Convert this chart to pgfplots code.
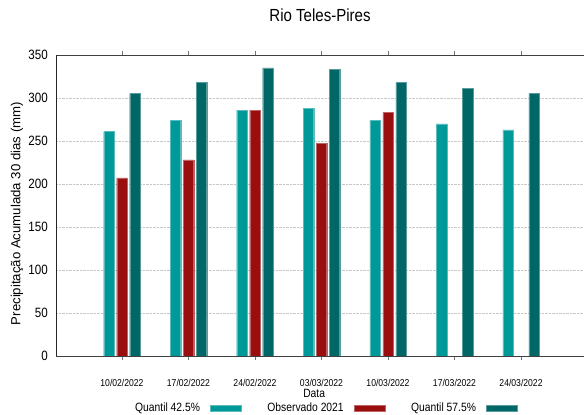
\documentclass[border=0pt]{standalone}
\usepackage{pgfplots}
\pgfplotsset{compat=1.18}
\usepackage{fontspec}
\setmainfont{Liberation Sans}
\newfontfamily\narrow[FakeStretch=0.86]{Liberation Sans}
\definecolor{qlow}{RGB}{0,153,153}
\definecolor{obs}{RGB}{153,15,15}
\definecolor{qhigh}{RGB}{0,102,102}
\begin{document}
\begin{tikzpicture}
\begin{axis}[%
scale only axis,
width=528pt, height=301pt,
xmin=-0.992, xmax=6.947,
ymin=0, ymax=350,
ytick={0,50,...,350},
xtick={0,...,6},
xticklabels={10/02/2022,17/02/2022,24/02/2022,03/03/2022,10/03/2022,17/03/2022,24/03/2022},
axis x line*=box,
axis y line*=left,
x axis line style={black!75, line width=0.8pt},
y axis line style={black!85, line width=0.8pt},
tick align=inside,
major tick length=4pt,
xtick style={black!55, line width=0.8pt},
ytick style={draw=none},
ymajorgrids,
grid style={densely dotted, black!22, line width=0.6pt},
/pgf/number format/assume math mode=true,
yticklabel style={font=\narrow\fontsize{13.5}{15}\selectfont, inner sep=0pt, xshift=-8pt},
xticklabel style={font=\narrow\fontsize{10}{12}\selectfont, anchor=center, yshift=-23pt},
title={Rio Teles-Pires},
title style={font=\narrow\fontsize{17.5}{20}\selectfont, at={(axis description cs:0.5,1)}, anchor=center, yshift=34pt},
xlabel={Data},
xlabel style={font=\narrow\fontsize{12}{14}\selectfont, at={(axis description cs:0.489,0)}, anchor=center, yshift=-37pt},
ylabel={Precipitação Acumulada 30 dias (mm)},
ylabel style={font=\fontsize{13.2}{15}\selectfont, at={(axis description cs:-0.074,0.473)}, anchor=center},
ybar, bar width=10.5pt,
legend columns=3,
legend plot pos=right,
legend image code/.code={\fill[#1] (0pt,-3.3pt) rectangle (31pt,3.3pt);},
legend style={draw=none, fill=none, at={(axis description cs:0.51,-0.173)}, anchor=center,
  font=\narrow\fontsize{12}{14}\selectfont,
  /tikz/every odd column/.append style={column sep=8pt},
  /tikz/every even column/.append style={column sep=24pt}},
]
\addplot [fill=qlow, draw=qlow!65, line width=0.4pt, bar shift=-13pt]
coordinates {(0,261) (1,274) (2,286) (3,288) (4,274) (5,270) (6,263)};
\addlegendentry{Quantil 42.5\%};
\addplot [fill=obs, draw=obs!65, line width=0.4pt, bar shift=0pt]
coordinates {(0,207) (1,228) (2,286) (3,247) (4,283)};
\addlegendentry{Observado 2021};
\addplot [fill=qhigh, draw=qhigh!65, line width=0.4pt, bar shift=13pt]
coordinates {(0,305) (1,318) (2,335) (3,333) (4,318) (5,311) (6,305)};
\addlegendentry{Quantil 57.5\%};
\coordinate (sw) at (rel axis cs:0,0);
\coordinate (ne) at (rel axis cs:1,1);
\end{axis}
\pgfresetboundingbox
\path ([xshift=-56pt,yshift=-59pt]sw) rectangle ([yshift=55pt]ne);
\end{tikzpicture}
\end{document}
